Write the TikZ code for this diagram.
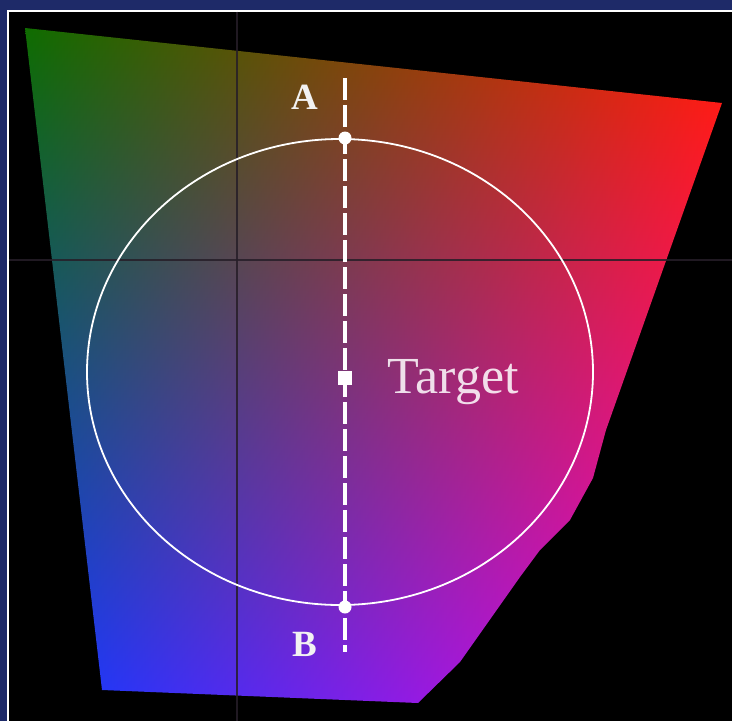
\documentclass[tikz,border=0pt]{standalone}
\usepackage{fontspec}
\setmainfont{Liberation Serif}
\usetikzlibrary{positioning, shadings}

\definecolor{slidenavy}{RGB}{30,42,104}
\definecolor{axisgray}{RGB}{38,30,40}
\definecolor{gamutgreen}{RGB}{15,108,0}
\definecolor{gamutred}{RGB}{255,30,0}
\definecolor{gamutblue}{RGB}{10,60,255}
\definecolor{gamutmagenta}{RGB}{255,0,205}

\begin{document}
\begin{tikzpicture}[
  x=1pt, y=-1pt,
  node distance=30pt and 30pt,
  axis/.style={draw=axisgray, line width=2pt, opacity=0.85},
  ring/.style={draw=white, line width=1.8pt},
  probe/.style={draw=white, line width=4pt, dash pattern=on 22pt off 5pt},
  dot/.style={circle, fill=white, inner sep=0pt, minimum size=13pt},
  target/.style={rectangle, fill=white, inner sep=0pt, minimum size=14pt},
  endtag/.style={text=white!90!gray, inner sep=0pt, font=\bfseries\fontsize{37}{37}\selectfont},
  targettag/.style={text=white, text opacity=0.85, inner sep=0pt, font=\fontsize{52}{52}\selectfont}
]
\useasboundingbox (0,0) rectangle (732,721);
\fill[black] (0,0) rectangle (732,721);
\fill[slidenavy] (0,0) rectangle (732,9.5);
\fill[slidenavy] (0,0) rectangle (6.5,721);
\fill[white] (6.5,9.5) rectangle (732,11.5);
\fill[white] (6.5,9.5) rectangle (9.3,721);

% gamut
\shade[upper left=gamutgreen, upper right=gamutred,
       lower left=gamutblue, lower right=gamutmagenta]
  (25,28) -- (722,103) -- (606,430) -- (593,478) -- (570,520) -- (540,550)
  -- (520,577) -- (460,662) -- (418,703) -- (102,690) -- cycle;

% axes
\draw[axis] (237,11.5) -- (237,721);
\draw[axis] (9.3,260) -- (732,260);

\draw[ring] (340,372) ellipse [x radius=253, y radius=233];

\coordinate (probeTop) at (345,78);
\coordinate (probeBot) at (345,652);
\draw[probe] (probeTop) -- (probeBot);

\node[dot] (a) at (345,138) {};
\node[dot] (b) at (345,607) {};
\node[target] (tgt) at (345,378) {};

\node[endtag] (labelA) at (305,97) {A};
\node[endtag] (labelB) at (305,644) {B};
\node[targettag, right=35pt of tgt, yshift=-4pt] (labelT) {Target};
\end{tikzpicture}
\end{document}
